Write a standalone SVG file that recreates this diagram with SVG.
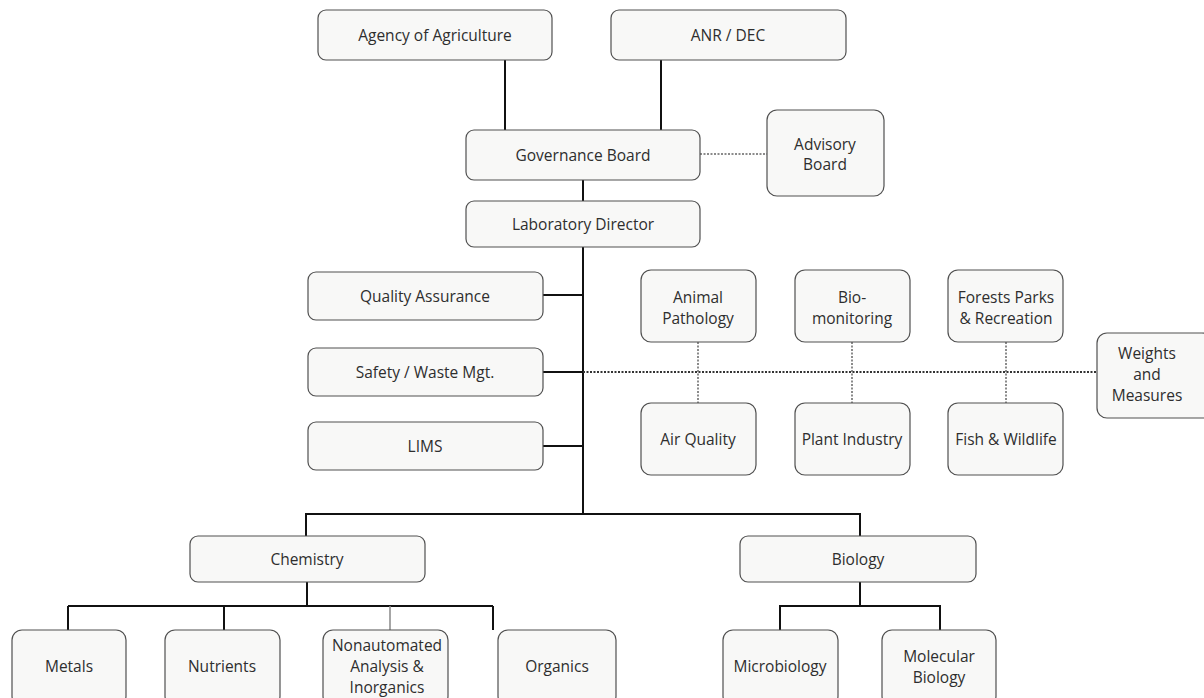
<svg xmlns="http://www.w3.org/2000/svg" width="1204" height="698" viewBox="0 0 1204 698">
<style>
.b{fill:#f8f8f7;stroke:#505050;stroke-width:1.2}
.t{font-family:"Open Sans","Liberation Sans",sans-serif;font-size:15.5px;fill:#2e2e2e;text-anchor:middle}
.s{stroke:#111;stroke-width:2;fill:none}
.d{stroke:#333;stroke-width:2;stroke-dasharray:2 1.5;fill:none}
.dt{stroke:#666;stroke-width:1.5;stroke-dasharray:2 1.5;fill:none}
</style>
<rect width="1204" height="698" fill="#fff"/>
<g id="connectors">
<path class="s" d="M505 60V130M661 60V130M583 180V201M583 247V514M543 295H583M543 372H583M543 446H583M305 514H861M306 514V536M860 514V536M307 582V606H68M307 606H493M68 606V630M224 606V630M493 606V630M860 582V606H780V630M860 606H940V630"/>
<path stroke="#888" stroke-width="1.5" d="M390 606V630"/>
<path class="dt" d="M700 154H767"/>
<path class="d" d="M583 372H1097"/>
<path class="dt" d="M698 342V403M852 342V403M1006 342V403"/>
</g>
<g id="agency"><rect class="b" x="318" y="10" width="234" height="50" rx="8"/><text class="t" x="435" y="41">Agency of Agriculture</text></g>
<g id="anr"><rect class="b" x="611" y="10" width="235" height="50" rx="8"/><text class="t" x="728" y="41">ANR / DEC</text></g>
<g id="governance"><rect class="b" x="466" y="130" width="234" height="50" rx="8"/><text class="t" x="583" y="161">Governance Board</text></g>
<g id="advisory"><rect class="b" x="767" y="110" width="117" height="86" rx="10"/><text class="t" x="825" y="150">Advisory</text><text class="t" x="825" y="170">Board</text></g>
<g id="director"><rect class="b" x="466" y="201" width="234" height="46" rx="8"/><text class="t" x="583" y="230">Laboratory Director</text></g>
<g id="qa"><rect class="b" x="308" y="272" width="235" height="48" rx="8"/><text class="t" x="425" y="302">Quality Assurance</text></g>
<g id="safety"><rect class="b" x="308" y="348" width="235" height="48" rx="8"/><text class="t" x="425" y="378">Safety / Waste Mgt.</text></g>
<g id="lims"><rect class="b" x="308" y="422" width="235" height="48" rx="8"/><text class="t" x="425" y="452">LIMS</text></g>
<g id="animal"><rect class="b" x="641" y="270" width="115" height="72" rx="10"/><text class="t" x="698" y="303">Animal</text><text class="t" x="698" y="324">Pathology</text></g>
<g id="biomon"><rect class="b" x="795" y="270" width="115" height="72" rx="10"/><text class="t" x="852" y="303">Bio-</text><text class="t" x="852" y="324">monitoring</text></g>
<g id="forests"><rect class="b" x="948" y="270" width="115" height="72" rx="10"/><text class="t" x="1006" y="303">Forests Parks</text><text class="t" x="1006" y="324">&amp; Recreation</text></g>
<g id="air"><rect class="b" x="641" y="403" width="115" height="72" rx="10"/><text class="t" x="698" y="445">Air Quality</text></g>
<g id="plant"><rect class="b" x="795" y="403" width="115" height="72" rx="10"/><text class="t" x="852" y="445">Plant Industry</text></g>
<g id="fish"><rect class="b" x="948" y="403" width="115" height="72" rx="10"/><text class="t" x="1006" y="445">Fish &amp; Wildlife</text></g>
<g id="weights"><rect class="b" x="1097" y="333" width="115" height="85" rx="10"/><text class="t" x="1147" y="359">Weights</text><text class="t" x="1147" y="380">and</text><text class="t" x="1147" y="401">Measures</text></g>
<g id="chemistry"><rect class="b" x="190" y="536" width="235" height="46" rx="8"/><text class="t" x="307" y="565">Chemistry</text></g>
<g id="biology"><rect class="b" x="740" y="536" width="236" height="46" rx="8"/><text class="t" x="858" y="565">Biology</text></g>
<g id="metals"><rect class="b" x="12" y="630" width="114" height="76" rx="10"/><text class="t" x="69" y="672">Metals</text></g>
<g id="nutrients"><rect class="b" x="165" y="630" width="115" height="76" rx="10"/><text class="t" x="222" y="672">Nutrients</text></g>
<g id="nonauto"><rect class="b" x="323" y="630" width="125" height="76" rx="10"/><text class="t" x="387" y="651">Nonautomated</text><text class="t" x="387" y="672">Analysis &amp;</text><text class="t" x="387" y="693">Inorganics</text></g>
<g id="organics"><rect class="b" x="498" y="630" width="118" height="76" rx="10"/><text class="t" x="557" y="672">Organics</text></g>
<g id="micro"><rect class="b" x="723" y="630" width="115" height="76" rx="10"/><text class="t" x="780" y="672">Microbiology</text></g>
<g id="molecular"><rect class="b" x="882" y="630" width="114" height="76" rx="10"/><text class="t" x="939" y="662">Molecular</text><text class="t" x="939" y="683">Biology</text></g>
</svg>
